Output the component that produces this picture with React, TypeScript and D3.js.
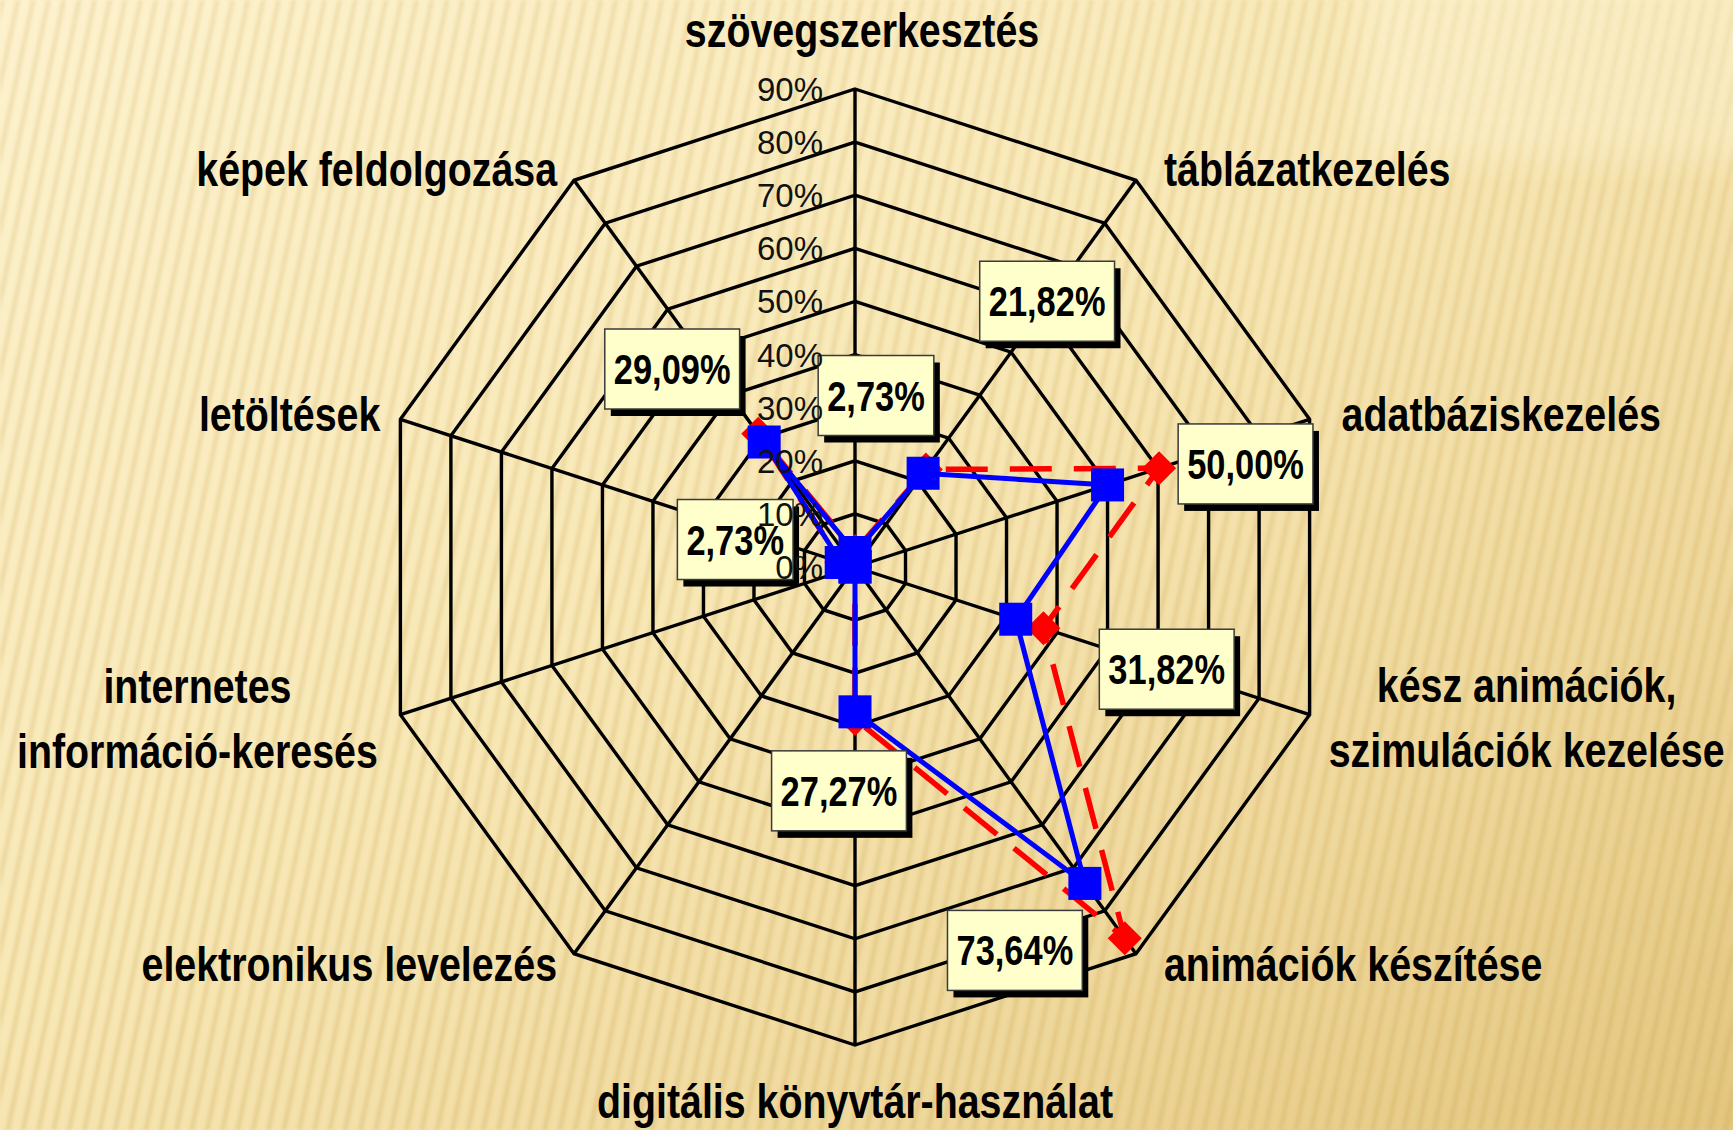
import React, { useMemo } from 'react';
import * as d3 from 'd3';

const W = 1733;
const H = 1130;

// ---- data ----
const categoryLines: string[][] = [
  ['szövegszerkesztés'],
  ['táblázatkezelés'],
  ['adatbáziskezelés'],
  ['kész animációk,', 'szimulációk kezelése'],
  ['animációk készítése'],
  ['digitális könyvtár-használat'],
  ['elektronikus levelezés'],
  ['internetes', 'információ-keresés'],
  ['letöltések'],
  ['képek feldolgozása'],
];
const blueValues = [2.73, 21.82, 50.0, 31.82, 73.64, 27.27, 0, 0, 2.73, 29.09];
const redValues = [3.0, 22.7, 60.2, 37.3, 86.4, 28.6, 0, 0, 2.7, 31.0];
const tickValues = [0, 10, 20, 30, 40, 50, 60, 70, 80, 90];
const tickLabels = ['0%', '10%', '20%', '30%', '40%', '50%', '60%', '70%', '80%', '90%'];

// ---- layout (not data) ----
const CX = 855;
const CY = 567;
const RMAX = 478;
// axis label offsets from the outer vertex: [dx, dy, anchor]
const axisLabelLayout: [number, number, string][] = [
  [7, -42, 'middle'],
  [28, 6, 'start'],
  [32, 12, 'start'],
  [217, -13, 'middle'],
  [28, 27, 'start'],
  [0, 73, 'middle'],
  [-17, 27, 'end'],
  [-203, -12, 'middle'],
  [-20, 12, 'end'],
  [-17, 6, 'end'],
];
// data label box centre offsets from the blue point (null = no label)
const labelOffsets: ([number, number] | null)[] = [
  [21, -157],
  [124, -172],
  [138, -21],
  [151, 50],
  [-70, 67],
  [-16, 79],
  null,
  null,
  [-106, -23],
  [-92, -73],
];

const FONT_NARROW = "'Liberation Sans Narrow', 'Liberation Sans', Arial, sans-serif";
const FONT_REG = "'Liberation Sans', Arial, sans-serif";

function useNarrow() {
  return useMemo(() => {
    try {
      const c = document.createElement('canvas').getContext('2d')!;
      c.font = "bold 46px 'Liberation Sans'";
      const a = c.measureText('szövegszerkesztés').width;
      c.font = `bold 46px ${FONT_NARROW}`;
      const b = c.measureText('szövegszerkesztés').width;
      const sx = b / a < 0.92 ? 1 : 0.82;
      const measure = (t: string, size: number) => {
        c.font = `bold ${size}px ${FONT_NARROW}`;
        return c.measureText(t).width * sx;
      };
      return { sx, measure };
    } catch (e) {
      return { sx: 0.82, measure: (t: string, size: number) => t.length * size * 0.45 };
    }
  }, []);
}

export default function App() {
  const { sx, measure } = useNarrow();
  const n = categoryLines.length;
  const r = d3.scaleLinear().domain([0, 90]).range([0, RMAX]);
  const ang = (i: number) => (i * 2 * Math.PI) / n;
  const pt = (i: number, v: number): [number, number] => [
    CX + r(v) * Math.sin(ang(i)),
    CY - r(v) * Math.cos(ang(i)),
  ];
  const radial = d3
    .lineRadial<number>()
    .angle((_d, i) => ang(i))
    .radius((d) => r(d))
    .curve(d3.curveLinearClosed);

  const rings = tickValues.filter((t) => t > 0);

  return (
    <svg
      width={W}
      height={H}
      style={{ position: 'absolute', left: 0, top: 0, display: 'block' }}
    >
      <defs>
        <linearGradient id="bg" x1="0" y1="0" x2="1" y2="1">
          <stop offset="0" stopColor="#FDF2CE" />
          <stop offset="0.45" stopColor="#F8E8B6" />
          <stop offset="0.75" stopColor="#EFD89C" />
          <stop offset="1" stopColor="#E3C67F" />
        </linearGradient>
        <filter id="soft" x="-5%" y="-5%" width="110%" height="110%">
          <feGaussianBlur stdDeviation="1.6" />
        </filter>
        <filter id="softBig">
          <feGaussianBlur stdDeviation="18" />
        </filter>
        <pattern
          id="stripes"
          width="15"
          height="40"
          patternUnits="userSpaceOnUse"
          patternTransform="rotate(12)"
        >
          <rect x="0" y="0" width="5" height="40" fill="#C9A24F" opacity="0.26" />
        </pattern>
        <linearGradient id="stripeFade" x1="0" y1="0" x2="0" y2="1">
          <stop offset="0" stopColor="#fff" stopOpacity="0.75" />
          <stop offset="1" stopColor="#fff" stopOpacity="1" />
        </linearGradient>
        <mask id="stripeMask">
          <rect width={W} height={H} fill="url(#stripeFade)" />
        </mask>
      </defs>

      {/* background */}
      <rect width={W} height={H} fill="url(#bg)" />
      <g mask="url(#stripeMask)" filter="url(#soft)">
        <rect width={W} height={H} fill="url(#stripes)" />
      </g>
      <rect
        x={1360}
        y={-40}
        width={420}
        height={200}
        fill="#FFF8DC"
        opacity={0.35}
        filter="url(#softBig)"
      />

      {/* grid rings */}
      <g fill="none" stroke="#000" strokeWidth={3.4} strokeLinejoin="miter">
        {rings.map((t) => (
          <path
            key={t}
            d={radial(d3.range(n).map(() => t)) || ''}
            transform={`translate(${CX},${CY})`}
          />
        ))}
        {d3.range(n).map((i) => {
          const [x, y] = pt(i, 90);
          return <line key={i} x1={CX} y1={CY} x2={x} y2={y} />;
        })}
      </g>

      {/* red series */}
      <path
        d={radial(redValues) || ''}
        transform={`translate(${CX},${CY})`}
        fill="none"
        stroke="#FF0000"
        strokeWidth={5.5}
        strokeDasharray="42 22"
      />
      {redValues.map((v, i) => {
        const [x, y] = pt(i, v);
        const s = 17;
        return (
          <path
            key={i}
            d={`M${x},${y - s}L${x + s},${y}L${x},${y + s}L${x - s},${y}Z`}
            fill="#FF0000"
          />
        );
      })}

      {/* blue series */}
      <path
        d={radial(blueValues) || ''}
        transform={`translate(${CX},${CY})`}
        fill="none"
        stroke="#0000FF"
        strokeWidth={5}
      />
      {blueValues.map((v, i) => {
        const [x, y] = pt(i, v);
        const s = 33;
        return <rect key={i} x={x - s / 2} y={y - s / 2} width={s} height={s} fill="#0000FF" />;
      })}

      {/* data labels */}
      {blueValues.map((v, i) => {
        const off = labelOffsets[i];
        if (!off) return null;
        const [px, py] = pt(i, v);
        const lx = px + off[0];
        const ly = py + off[1];
        const txt = v.toFixed(2).replace('.', ',') + '%';
        const w = measure(txt, 42) + 18;
        const h = 80;
        return (
          <g key={i}>
            <rect x={lx - w / 2 + 6} y={ly - h / 2 + 7} width={w} height={h} fill="#000" />
            <rect
              x={lx - w / 2}
              y={ly - h / 2}
              width={w}
              height={h}
              fill="#FFFFCC"
              stroke="#3a3a3a"
              strokeWidth={1.5}
            />
            <text
              transform={`translate(${lx},${ly + 15}) scale(${sx},1)`}
              textAnchor="middle"
              fontFamily={FONT_NARROW}
              fontWeight="bold"
              fontSize={42}
              fill="#000"
            >
              {txt}
            </text>
          </g>
        );
      })}

      {/* tick labels */}
      {tickValues.map((t, k) => (
        <text
          key={t}
          x={CX - 32}
          y={CY - r(t) + 12}
          textAnchor="end"
          fontFamily={FONT_REG}
          fontSize={33}
          fill="#111"
        >
          {tickLabels[k]}
        </text>
      ))}

      {/* axis labels */}
      {categoryLines.map((lines, i) => {
        const [vx, vy] = pt(i, 90);
        const [dx, dy, anchor] = axisLabelLayout[i];
        return lines.map((ln, j) => (
          <text
            key={`${i}-${j}`}
            transform={`translate(${vx + dx},${vy + dy + j * 65}) scale(${sx},1)`}
            textAnchor={anchor as any}
            fontFamily={FONT_NARROW}
            fontWeight="bold"
            fontSize={48}
            fill="#000"
          >
            {ln}
          </text>
        ));
      })}
    </svg>
  );
}
